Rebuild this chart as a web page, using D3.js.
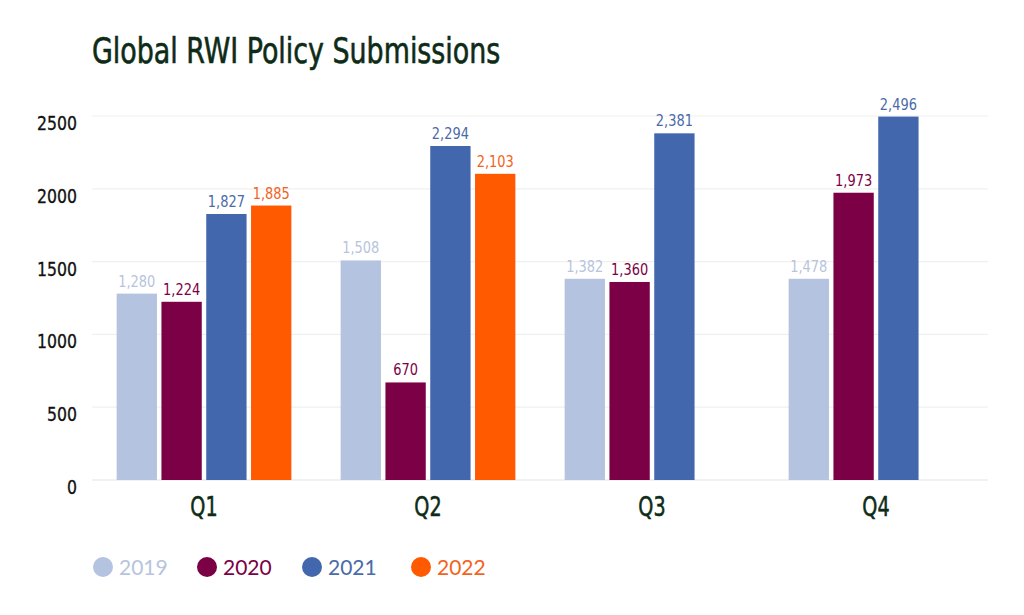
<!DOCTYPE html>
<html>
<head>
<meta charset="utf-8">
<script src="https://cdn.jsdelivr.net/npm/d3@7"></script>
<style>
    body { margin: 0; background: #fff; }
    .cond { font-family: "DejaVu Sans Condensed", "DejaVu Sans", sans-serif; font-stretch: condensed; }
    .legend text { font-family: Lato, "Noto Sans", sans-serif; }
</style>
</head>
<body>
<div id="chart"></div>
<script>
// chart data
const quarters = ["Q1", "Q2", "Q3", "Q4"];
const years = ["2019", "2020", "2021", "2022"];
const v2019 = [1280, 1508, 1382, 1382];   // Q4 bar is drawn at the Q3 height in the source
const v2020 = [1224, 670, 1360, 1973];
const v2021 = [1827, 2294, 2381, 2496];
const v2022 = [1885, 2103, null, null];
const labels2019 = ["1,280", "1,508", "1,382", "1,478"];  // as printed above the bars
const yTicks = [0, 500, 1000, 1500, 2000, 2500];

const colors = ["#b4c3df", "#7b0046", "#4267ad", "#ff5a00"];
const labelColors = ["#b7c4dd", "#7b0046", "#4a6aa8", "#f2631c"];

let width = 1024, height = 615;
let margin = { top: 116, right: 36, bottom: 135, left: 92 };

let svg = d3.select("#chart").append("svg")
    .attr("width", width)
    .attr("height", height);

let series = [v2019, v2020, v2021, v2022];
let fmt = d3.format(",");

let x0 = d3.scaleBand()
    .domain(quarters)
    .range([margin.left, width - margin.right])
    .paddingInner(0.22)
    .paddingOuter(0.11);

let x1 = d3.scaleBand()
    .domain(years)
    .range([0, x0.bandwidth()])
    .paddingInner(0.1)
    .paddingOuter(0);

let y = d3.scaleLinear()
    .domain([0, 2500])
    .range([height - margin.bottom, margin.top]);

// title (squeezed a bit to look like the narrow face in the source)
svg.append("text")
    .attr("class", "cond")
    .attr("transform", "translate(92,63) scale(0.83,1)")
    .attr("fill", "#0e2b18")
    .attr("stroke", "#0e2b18")
    .attr("stroke-width", 0.6)
    .style("font-size", "36px")
    .text("Global RWI Policy Submissions");

// grid lines + tick labels
let grid = svg.append("g");
grid.selectAll("line")
    .data(yTicks)
    .enter()
    .append("line")
    .attr("x1", margin.left)
    .attr("x2", width - margin.right)
    .attr("y1", d => y(d))
    .attr("y2", d => y(d))
    .attr("stroke", d => d === 0 ? "#e4e4e4" : "#f0f0f0")
    .attr("stroke-width", 1.2);

grid.selectAll("text")
    .data(yTicks)
    .enter()
    .append("text")
    .attr("class", "cond")
    .attr("transform", d => "translate(77," + (y(d) + 14) + ") scale(0.92,1)")
    .attr("text-anchor", "end")
    .attr("fill", "#111")
    .attr("stroke", "#111")
    .attr("stroke-width", 0.3)
    .style("font-size", "19px")
    .text(d => d);

// bars
let groups = svg.append("g").selectAll("g")
    .data(quarters)
    .enter()
    .append("g")
    .attr("transform", d => "translate(" + x0(d) + ",0)");

let cells = groups.selectAll("g")
    .data((q, qi) => years.map((yr, i) => ({ yr: yr, i: i, qi: qi, v: series[i][qi] }))
        .filter(d => d.v != null))
    .enter()
    .append("g");

cells.append("rect")
    .attr("x", d => x1(d.yr))
    .attr("width", x1.bandwidth())
    .attr("y", d => y(d.v))
    .attr("height", d => y(0) - y(d.v))
    .attr("fill", d => colors[d.i]);

cells.append("text")
    .attr("class", "cond")
    .attr("transform", d => "translate(" + (x1(d.yr) + x1.bandwidth() / 2) + "," + (y(d.v) - 7) + ") scale(0.9,1)")
    .attr("text-anchor", "middle")
    .attr("fill", d => labelColors[d.i])
    .style("font-size", "16px")
    .text(d => d.i === 0 ? labels2019[d.qi] : fmt(d.v));

// quarter labels
svg.append("g").selectAll("text")
    .data(quarters)
    .enter()
    .append("text")
    .attr("class", "cond")
    .attr("transform", d => "translate(" + (x0(d) + x0.bandwidth() / 2) + ",516) scale(0.82,1)")
    .attr("text-anchor", "middle")
    .attr("fill", "#0e2b18")
    .attr("stroke", "#0e2b18")
    .attr("stroke-width", 0.5)
    .style("font-size", "26px")
    .text(d => d);

// legend
let legendX = [103, 207, 312, 421];
let legend = svg.append("g").attr("class", "legend")
    .selectAll("g")
    .data(years)
    .enter()
    .append("g")
    .attr("transform", (d, i) => "translate(" + legendX[i] + ",567)");

legend.append("circle")
    .attr("r", 10)
    .attr("fill", (d, i) => colors[i]);

legend.append("text")
    .attr("x", 16)
    .attr("y", 7.5)
    .attr("fill", (d, i) => labelColors[i])
    .style("font-size", "21px")
    .text(d => d);
</script>
</body>
</html>
